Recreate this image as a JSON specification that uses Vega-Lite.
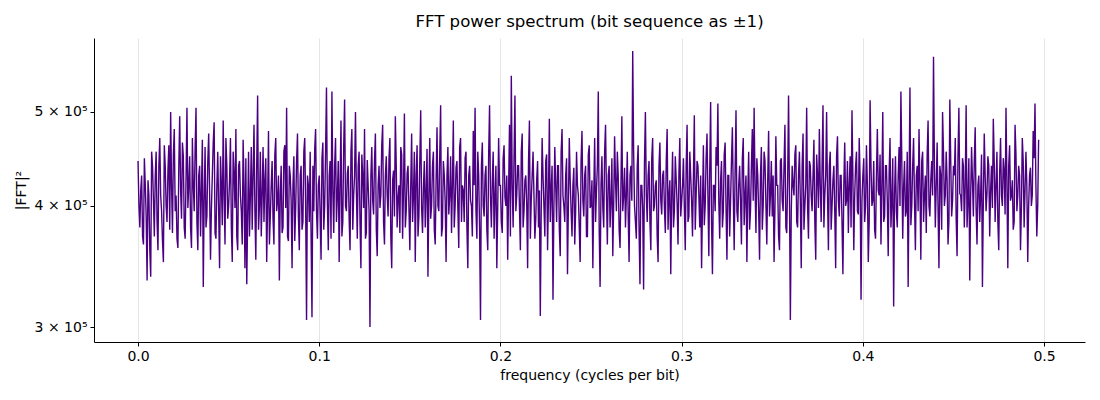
{
  "$schema": "https://vega.github.io/schema/vega-lite/v6.json",
  "description": "FFT power spectrum of a bit sequence mapped to +/-1",
  "width": 991,
  "height": 304,
  "autosize": "none",
  "padding": {"left": 94, "top": 38, "right": 15, "bottom": 58},
  "title": {"text": "FFT power spectrum (bit sequence as ±1)", "fontSize": 16.6, "fontWeight": "normal", "font": "DejaVu Sans", "color": "#000000", "offset": 7},
  "data": {
    "values": [
      {"f":0.0000,"p":445000},{"f":0.0005,"p":400000},{"f":0.0010,"p":380000},{"f":0.0015,"p":415000},{"f":0.0020,"p":430000},{"f":0.0025,"p":372000},{"f":0.0030,"p":365000},{"f":0.0035,"p":448000},{"f":0.0040,"p":420000},{"f":0.0045,"p":390000},
      {"f":0.0050,"p":335000},{"f":0.0055,"p":425000},{"f":0.0060,"p":410000},{"f":0.0065,"p":360000},{"f":0.0070,"p":338000},{"f":0.0075,"p":455000},{"f":0.0080,"p":440000},{"f":0.0085,"p":405000},{"f":0.0090,"p":372000},{"f":0.0095,"p":430000},
      {"f":0.0100,"p":455000},{"f":0.0105,"p":385000},{"f":0.0110,"p":360000},{"f":0.0115,"p":440000},{"f":0.0120,"p":470000},{"f":0.0125,"p":410000},{"f":0.0130,"p":395000},{"f":0.0135,"p":368000},{"f":0.0140,"p":350000},{"f":0.0145,"p":462000},
      {"f":0.0150,"p":440000},{"f":0.0155,"p":400000},{"f":0.0160,"p":385000},{"f":0.0165,"p":435000},{"f":0.0170,"p":462000},{"f":0.0175,"p":378000},{"f":0.0180,"p":500000},{"f":0.0185,"p":420000},{"f":0.0190,"p":375000},{"f":0.0195,"p":452000},
      {"f":0.0200,"p":480000},{"f":0.0205,"p":395000},{"f":0.0210,"p":410000},{"f":0.0215,"p":370000},{"f":0.0220,"p":362000},{"f":0.0225,"p":440000},{"f":0.0230,"p":495000},{"f":0.0235,"p":415000},{"f":0.0240,"p":388000},{"f":0.0245,"p":465000},
      {"f":0.0250,"p":450000},{"f":0.0255,"p":380000},{"f":0.0260,"p":370000},{"f":0.0265,"p":428000},{"f":0.0270,"p":505000},{"f":0.0275,"p":398000},{"f":0.0280,"p":420000},{"f":0.0285,"p":450000},{"f":0.0290,"p":380000},{"f":0.0295,"p":362000},
      {"f":0.0300,"p":470000},{"f":0.0305,"p":420000},{"f":0.0310,"p":395000},{"f":0.0315,"p":458000},{"f":0.0320,"p":505000},{"f":0.0325,"p":385000},{"f":0.0330,"p":360000},{"f":0.0335,"p":430000},{"f":0.0340,"p":440000},{"f":0.0345,"p":372000},
      {"f":0.0350,"p":415000},{"f":0.0355,"p":468000},{"f":0.0360,"p":330000},{"f":0.0365,"p":405000},{"f":0.0370,"p":460000},{"f":0.0375,"p":380000},{"f":0.0380,"p":390000},{"f":0.0385,"p":445000},{"f":0.0390,"p":475000},{"f":0.0395,"p":412000},
      {"f":0.0400,"p":352000},{"f":0.0405,"p":398000},{"f":0.0410,"p":430000},{"f":0.0415,"p":465000},{"f":0.0420,"p":488000},{"f":0.0425,"p":375000},{"f":0.0430,"p":370000},{"f":0.0435,"p":420000},{"f":0.0440,"p":455000},{"f":0.0445,"p":395000},
      {"f":0.0450,"p":345000},{"f":0.0455,"p":450000},{"f":0.0460,"p":420000},{"f":0.0465,"p":382000},{"f":0.0470,"p":490000},{"f":0.0475,"p":410000},{"f":0.0480,"p":365000},{"f":0.0485,"p":470000},{"f":0.0490,"p":440000},{"f":0.0495,"p":388000},
      {"f":0.0500,"p":400000},{"f":0.0505,"p":425000},{"f":0.0510,"p":470000},{"f":0.0515,"p":380000},{"f":0.0520,"p":350000},{"f":0.0525,"p":455000},{"f":0.0530,"p":432000},{"f":0.0535,"p":398000},{"f":0.0540,"p":480000},{"f":0.0545,"p":372000},
      {"f":0.0550,"p":360000},{"f":0.0555,"p":440000},{"f":0.0560,"p":445000},{"f":0.0565,"p":410000},{"f":0.0570,"p":395000},{"f":0.0575,"p":365000},{"f":0.0580,"p":468000},{"f":0.0585,"p":420000},{"f":0.0590,"p":345000},{"f":0.0595,"p":448000},
      {"f":0.0600,"p":332000},{"f":0.0605,"p":390000},{"f":0.0610,"p":455000},{"f":0.0615,"p":372000},{"f":0.0620,"p":410000},{"f":0.0625,"p":460000},{"f":0.0630,"p":378000},{"f":0.0635,"p":430000},{"f":0.0640,"p":485000},{"f":0.0645,"p":395000},
      {"f":0.0650,"p":352000},{"f":0.0655,"p":442000},{"f":0.0660,"p":520000},{"f":0.0665,"p":378000},{"f":0.0670,"p":400000},{"f":0.0675,"p":455000},{"f":0.0680,"p":372000},{"f":0.0685,"p":410000},{"f":0.0690,"p":460000},{"f":0.0695,"p":385000},
      {"f":0.0700,"p":425000},{"f":0.0705,"p":448000},{"f":0.0710,"p":350000},{"f":0.0715,"p":400000},{"f":0.0720,"p":478000},{"f":0.0725,"p":365000},{"f":0.0730,"p":390000},{"f":0.0735,"p":420000},{"f":0.0740,"p":445000},{"f":0.0745,"p":388000},
      {"f":0.0750,"p":365000},{"f":0.0755,"p":452000},{"f":0.0760,"p":470000},{"f":0.0765,"p":395000},{"f":0.0770,"p":405000},{"f":0.0775,"p":430000},{"f":0.0780,"p":335000},{"f":0.0785,"p":412000},{"f":0.0790,"p":440000},{"f":0.0795,"p":375000},
      {"f":0.0800,"p":380000},{"f":0.0805,"p":455000},{"f":0.0810,"p":462000},{"f":0.0815,"p":398000},{"f":0.0820,"p":505000},{"f":0.0825,"p":372000},{"f":0.0830,"p":368000},{"f":0.0835,"p":440000},{"f":0.0840,"p":430000},{"f":0.0845,"p":405000},
      {"f":0.0850,"p":345000},{"f":0.0855,"p":420000},{"f":0.0860,"p":450000},{"f":0.0865,"p":368000},{"f":0.0870,"p":398000},{"f":0.0875,"p":445000},{"f":0.0880,"p":475000},{"f":0.0885,"p":390000},{"f":0.0890,"p":360000},{"f":0.0895,"p":430000},
      {"f":0.0900,"p":440000},{"f":0.0905,"p":378000},{"f":0.0910,"p":385000},{"f":0.0915,"p":455000},{"f":0.0920,"p":470000},{"f":0.0925,"p":400000},{"f":0.0930,"p":305000},{"f":0.0935,"p":430000},{"f":0.0940,"p":420000},{"f":0.0945,"p":385000},
      {"f":0.0950,"p":455000},{"f":0.0955,"p":372000},{"f":0.0960,"p":307000},{"f":0.0965,"p":440000},{"f":0.0970,"p":395000},{"f":0.0975,"p":458000},{"f":0.0980,"p":480000},{"f":0.0985,"p":395000},{"f":0.0990,"p":370000},{"f":0.0995,"p":420000},
      {"f":0.1000,"p":430000},{"f":0.1005,"p":392000},{"f":0.1010,"p":352000},{"f":0.1015,"p":448000},{"f":0.1020,"p":465000},{"f":0.1025,"p":378000},{"f":0.1030,"p":400000},{"f":0.1035,"p":455000},{"f":0.1040,"p":530000},{"f":0.1045,"p":402000},
      {"f":0.1050,"p":360000},{"f":0.1055,"p":430000},{"f":0.1060,"p":445000},{"f":0.1065,"p":370000},{"f":0.1070,"p":525000},{"f":0.1075,"p":415000},{"f":0.1080,"p":375000},{"f":0.1085,"p":440000},{"f":0.1090,"p":470000},{"f":0.1095,"p":385000},
      {"f":0.1100,"p":410000},{"f":0.1105,"p":445000},{"f":0.1110,"p":350000},{"f":0.1115,"p":420000},{"f":0.1120,"p":490000},{"f":0.1125,"p":372000},{"f":0.1130,"p":385000},{"f":0.1135,"p":460000},{"f":0.1140,"p":515000},{"f":0.1145,"p":400000},
      {"f":0.1150,"p":395000},{"f":0.1155,"p":432000},{"f":0.1160,"p":440000},{"f":0.1165,"p":388000},{"f":0.1170,"p":360000},{"f":0.1175,"p":455000},{"f":0.1180,"p":480000},{"f":0.1185,"p":378000},{"f":0.1190,"p":410000},{"f":0.1195,"p":430000},
      {"f":0.1200,"p":500000},{"f":0.1205,"p":415000},{"f":0.1210,"p":370000},{"f":0.1215,"p":440000},{"f":0.1220,"p":455000},{"f":0.1225,"p":385000},{"f":0.1230,"p":345000},{"f":0.1235,"p":452000},{"f":0.1240,"p":430000},{"f":0.1245,"p":398000},
      {"f":0.1250,"p":480000},{"f":0.1255,"p":370000},{"f":0.1260,"p":375000},{"f":0.1265,"p":446000},{"f":0.1270,"p":420000},{"f":0.1275,"p":395000},{"f":0.1280,"p":300000},{"f":0.1285,"p":430000},{"f":0.1290,"p":460000},{"f":0.1295,"p":405000},
      {"f":0.1300,"p":392000},{"f":0.1305,"p":445000},{"f":0.1310,"p":475000},{"f":0.1315,"p":378000},{"f":0.1320,"p":355000},{"f":0.1325,"p":420000},{"f":0.1330,"p":440000},{"f":0.1335,"p":398000},{"f":0.1340,"p":410000},{"f":0.1345,"p":462000},
      {"f":0.1350,"p":485000},{"f":0.1355,"p":385000},{"f":0.1360,"p":365000},{"f":0.1365,"p":430000},{"f":0.1370,"p":450000},{"f":0.1375,"p":410000},{"f":0.1380,"p":390000},{"f":0.1385,"p":448000},{"f":0.1390,"p":470000},{"f":0.1395,"p":372000},
      {"f":0.1400,"p":345000},{"f":0.1405,"p":425000},{"f":0.1410,"p":435000},{"f":0.1415,"p":390000},{"f":0.1420,"p":495000},{"f":0.1425,"p":440000},{"f":0.1430,"p":380000},{"f":0.1435,"p":408000},{"f":0.1440,"p":420000},{"f":0.1445,"p":375000},
      {"f":0.1450,"p":460000},{"f":0.1455,"p":452000},{"f":0.1460,"p":370000},{"f":0.1465,"p":415000},{"f":0.1470,"p":498000},{"f":0.1475,"p":380000},{"f":0.1480,"p":395000},{"f":0.1485,"p":432000},{"f":0.1490,"p":440000},{"f":0.1495,"p":398000},
      {"f":0.1500,"p":360000},{"f":0.1505,"p":420000},{"f":0.1510,"p":475000},{"f":0.1515,"p":385000},{"f":0.1520,"p":410000},{"f":0.1525,"p":455000},{"f":0.1530,"p":350000},{"f":0.1535,"p":430000},{"f":0.1540,"p":462000},{"f":0.1545,"p":372000},
      {"f":0.1550,"p":390000},{"f":0.1555,"p":445000},{"f":0.1560,"p":502000},{"f":0.1565,"p":398000},{"f":0.1570,"p":375000},{"f":0.1575,"p":418000},{"f":0.1580,"p":445000},{"f":0.1585,"p":380000},{"f":0.1590,"p":415000},{"f":0.1595,"p":458000},
      {"f":0.1600,"p":338000},{"f":0.1605,"p":410000},{"f":0.1610,"p":470000},{"f":0.1615,"p":388000},{"f":0.1620,"p":400000},{"f":0.1625,"p":440000},{"f":0.1630,"p":455000},{"f":0.1635,"p":378000},{"f":0.1640,"p":365000},{"f":0.1645,"p":425000},
      {"f":0.1650,"p":482000},{"f":0.1655,"p":400000},{"f":0.1660,"p":395000},{"f":0.1665,"p":452000},{"f":0.1670,"p":508000},{"f":0.1675,"p":372000},{"f":0.1680,"p":380000},{"f":0.1685,"p":445000},{"f":0.1690,"p":430000},{"f":0.1695,"p":405000},
      {"f":0.1700,"p":350000},{"f":0.1705,"p":430000},{"f":0.1710,"p":460000},{"f":0.1715,"p":392000},{"f":0.1720,"p":410000},{"f":0.1725,"p":450000},{"f":0.1730,"p":375000},{"f":0.1735,"p":420000},{"f":0.1740,"p":490000},{"f":0.1745,"p":380000},
      {"f":0.1750,"p":400000},{"f":0.1755,"p":438000},{"f":0.1760,"p":445000},{"f":0.1765,"p":398000},{"f":0.1770,"p":362000},{"f":0.1775,"p":460000},{"f":0.1780,"p":470000},{"f":0.1785,"p":385000},{"f":0.1790,"p":420000},{"f":0.1795,"p":415000},
      {"f":0.1800,"p":385000},{"f":0.1805,"p":448000},{"f":0.1810,"p":455000},{"f":0.1815,"p":380000},{"f":0.1820,"p":345000},{"f":0.1825,"p":430000},{"f":0.1830,"p":440000},{"f":0.1835,"p":405000},{"f":0.1840,"p":400000},{"f":0.1845,"p":372000},
      {"f":0.1850,"p":478000},{"f":0.1855,"p":420000},{"f":0.1860,"p":505000},{"f":0.1865,"p":395000},{"f":0.1870,"p":370000},{"f":0.1875,"p":455000},{"f":0.1880,"p":430000},{"f":0.1885,"p":378000},{"f":0.1890,"p":305000},{"f":0.1895,"p":440000},
      {"f":0.1900,"p":465000},{"f":0.1905,"p":400000},{"f":0.1910,"p":390000},{"f":0.1915,"p":430000},{"f":0.1920,"p":440000},{"f":0.1925,"p":378000},{"f":0.1930,"p":360000},{"f":0.1935,"p":452000},{"f":0.1940,"p":508000},{"f":0.1945,"p":410000},
      {"f":0.1950,"p":380000},{"f":0.1955,"p":425000},{"f":0.1960,"p":455000},{"f":0.1965,"p":370000},{"f":0.1970,"p":410000},{"f":0.1975,"p":440000},{"f":0.1980,"p":345000},{"f":0.1985,"p":398000},{"f":0.1990,"p":470000},{"f":0.1995,"p":420000},
      {"f":0.2000,"p":420000},{"f":0.2005,"p":385000},{"f":0.2010,"p":375000},{"f":0.2015,"p":448000},{"f":0.2020,"p":462000},{"f":0.2025,"p":408000},{"f":0.2030,"p":400000},{"f":0.2035,"p":430000},{"f":0.2040,"p":352000},{"f":0.2045,"p":415000},
      {"f":0.2050,"p":485000},{"f":0.2055,"p":372000},{"f":0.2060,"p":545000},{"f":0.2065,"p":420000},{"f":0.2070,"p":380000},{"f":0.2075,"p":450000},{"f":0.2080,"p":520000},{"f":0.2085,"p":395000},{"f":0.2090,"p":410000},{"f":0.2095,"p":440000},
      {"f":0.2100,"p":440000},{"f":0.2105,"p":398000},{"f":0.2110,"p":360000},{"f":0.2115,"p":455000},{"f":0.2120,"p":475000},{"f":0.2125,"p":380000},{"f":0.2130,"p":395000},{"f":0.2135,"p":425000},{"f":0.2140,"p":430000},{"f":0.2145,"p":402000},
      {"f":0.2150,"p":345000},{"f":0.2155,"p":445000},{"f":0.2160,"p":490000},{"f":0.2165,"p":370000},{"f":0.2170,"p":405000},{"f":0.2175,"p":430000},{"f":0.2180,"p":455000},{"f":0.2185,"p":410000},{"f":0.2190,"p":370000},{"f":0.2195,"p":388000},
      {"f":0.2200,"p":425000},{"f":0.2205,"p":445000},{"f":0.2210,"p":380000},{"f":0.2215,"p":415000},{"f":0.2220,"p":308000},{"f":0.2225,"p":395000},{"f":0.2230,"p":470000},{"f":0.2235,"p":430000},{"f":0.2240,"p":400000},{"f":0.2245,"p":372000},
      {"f":0.2250,"p":445000},{"f":0.2255,"p":452000},{"f":0.2260,"p":360000},{"f":0.2265,"p":408000},{"f":0.2270,"p":492000},{"f":0.2275,"p":385000},{"f":0.2280,"p":415000},{"f":0.2285,"p":440000},{"f":0.2290,"p":320000},{"f":0.2295,"p":398000},
      {"f":0.2300,"p":460000},{"f":0.2305,"p":420000},{"f":0.2310,"p":385000},{"f":0.2315,"p":440000},{"f":0.2320,"p":440000},{"f":0.2325,"p":378000},{"f":0.2330,"p":355000},{"f":0.2335,"p":455000},{"f":0.2340,"p":480000},{"f":0.2345,"p":410000},
      {"f":0.2350,"p":400000},{"f":0.2355,"p":385000},{"f":0.2360,"p":430000},{"f":0.2365,"p":448000},{"f":0.2370,"p":340000},{"f":0.2375,"p":400000},{"f":0.2380,"p":470000},{"f":0.2385,"p":425000},{"f":0.2390,"p":395000},{"f":0.2395,"p":372000},
      {"f":0.2400,"p":420000},{"f":0.2405,"p":438000},{"f":0.2410,"p":365000},{"f":0.2415,"p":395000},{"f":0.2420,"p":455000},{"f":0.2425,"p":420000},{"f":0.2430,"p":410000},{"f":0.2435,"p":380000},{"f":0.2440,"p":350000},{"f":0.2445,"p":445000},
      {"f":0.2450,"p":478000},{"f":0.2455,"p":405000},{"f":0.2460,"p":390000},{"f":0.2465,"p":430000},{"f":0.2470,"p":440000},{"f":0.2475,"p":372000},{"f":0.2480,"p":372000},{"f":0.2485,"p":452000},{"f":0.2490,"p":462000},{"f":0.2495,"p":398000},
      {"f":0.2500,"p":400000},{"f":0.2505,"p":425000},{"f":0.2510,"p":345000},{"f":0.2515,"p":410000},{"f":0.2520,"p":470000},{"f":0.2525,"p":385000},{"f":0.2530,"p":415000},{"f":0.2535,"p":440000},{"f":0.2540,"p":525000},{"f":0.2545,"p":378000},
      {"f":0.2550,"p":330000},{"f":0.2555,"p":420000},{"f":0.2560,"p":450000},{"f":0.2565,"p":398000},{"f":0.2570,"p":380000},{"f":0.2575,"p":455000},{"f":0.2580,"p":485000},{"f":0.2585,"p":412000},{"f":0.2590,"p":365000},{"f":0.2595,"p":430000},
      {"f":0.2600,"p":440000},{"f":0.2605,"p":380000},{"f":0.2610,"p":405000},{"f":0.2615,"p":448000},{"f":0.2620,"p":355000},{"f":0.2625,"p":402000},{"f":0.2630,"p":472000},{"f":0.2635,"p":425000},{"f":0.2640,"p":395000},{"f":0.2645,"p":455000},
      {"f":0.2650,"p":430000},{"f":0.2655,"p":378000},{"f":0.2660,"p":362000},{"f":0.2665,"p":420000},{"f":0.2670,"p":495000},{"f":0.2675,"p":395000},{"f":0.2680,"p":410000},{"f":0.2685,"p":438000},{"f":0.2690,"p":380000},{"f":0.2695,"p":410000},
      {"f":0.2700,"p":455000},{"f":0.2705,"p":392000},{"f":0.2710,"p":350000},{"f":0.2715,"p":430000},{"f":0.2720,"p":440000},{"f":0.2725,"p":405000},{"f":0.2730,"p":578000},{"f":0.2735,"p":455000},{"f":0.2740,"p":400000},{"f":0.2745,"p":385000},
      {"f":0.2750,"p":370000},{"f":0.2755,"p":440000},{"f":0.2760,"p":462000},{"f":0.2765,"p":378000},{"f":0.2770,"p":332000},{"f":0.2775,"p":420000},{"f":0.2780,"p":420000},{"f":0.2785,"p":398000},{"f":0.2790,"p":328000},{"f":0.2795,"p":445000},
      {"f":0.2800,"p":500000},{"f":0.2805,"p":410000},{"f":0.2810,"p":385000},{"f":0.2815,"p":430000},{"f":0.2820,"p":445000},{"f":0.2825,"p":385000},{"f":0.2830,"p":360000},{"f":0.2835,"p":448000},{"f":0.2840,"p":470000},{"f":0.2845,"p":395000},
      {"f":0.2850,"p":400000},{"f":0.2855,"p":420000},{"f":0.2860,"p":425000},{"f":0.2865,"p":372000},{"f":0.2870,"p":350000},{"f":0.2875,"p":440000},{"f":0.2880,"p":465000},{"f":0.2885,"p":405000},{"f":0.2890,"p":392000},{"f":0.2895,"p":430000},
      {"f":0.2900,"p":435000},{"f":0.2905,"p":398000},{"f":0.2910,"p":375000},{"f":0.2915,"p":445000},{"f":0.2920,"p":480000},{"f":0.2925,"p":378000},{"f":0.2930,"p":410000},{"f":0.2935,"p":425000},{"f":0.2940,"p":340000},{"f":0.2945,"p":412000},
      {"f":0.2950,"p":455000},{"f":0.2955,"p":380000},{"f":0.2960,"p":395000},{"f":0.2965,"p":450000},{"f":0.2970,"p":425000},{"f":0.2975,"p":402000},{"f":0.2980,"p":365000},{"f":0.2985,"p":432000},{"f":0.2990,"p":470000},{"f":0.2995,"p":390000},
      {"f":0.3000,"p":405000},{"f":0.3005,"p":420000},{"f":0.3010,"p":448000},{"f":0.3015,"p":398000},{"f":0.3020,"p":360000},{"f":0.3025,"p":440000},{"f":0.3030,"p":485000},{"f":0.3035,"p":385000},{"f":0.3040,"p":390000},{"f":0.3045,"p":455000},
      {"f":0.3050,"p":430000},{"f":0.3055,"p":405000},{"f":0.3060,"p":372000},{"f":0.3065,"p":430000},{"f":0.3070,"p":496000},{"f":0.3075,"p":378000},{"f":0.3080,"p":410000},{"f":0.3085,"p":445000},{"f":0.3090,"p":440000},{"f":0.3095,"p":410000},
      {"f":0.3100,"p":380000},{"f":0.3105,"p":430000},{"f":0.3110,"p":345000},{"f":0.3115,"p":400000},{"f":0.3120,"p":462000},{"f":0.3125,"p":382000},{"f":0.3130,"p":400000},{"f":0.3135,"p":448000},{"f":0.3140,"p":475000},{"f":0.3145,"p":410000},
      {"f":0.3150,"p":355000},{"f":0.3155,"p":435000},{"f":0.3160,"p":512000},{"f":0.3165,"p":385000},{"f":0.3170,"p":340000},{"f":0.3175,"p":420000},{"f":0.3180,"p":420000},{"f":0.3185,"p":395000},{"f":0.3190,"p":460000},{"f":0.3195,"p":440000},
      {"f":0.3200,"p":510000},{"f":0.3205,"p":405000},{"f":0.3210,"p":370000},{"f":0.3215,"p":425000},{"f":0.3220,"p":445000},{"f":0.3225,"p":380000},{"f":0.3230,"p":395000},{"f":0.3235,"p":452000},{"f":0.3240,"p":465000},{"f":0.3245,"p":398000},
      {"f":0.3250,"p":352000},{"f":0.3255,"p":430000},{"f":0.3260,"p":430000},{"f":0.3265,"p":372000},{"f":0.3270,"p":405000},{"f":0.3275,"p":445000},{"f":0.3280,"p":482000},{"f":0.3285,"p":410000},{"f":0.3290,"p":360000},{"f":0.3295,"p":435000},
      {"f":0.3300,"p":502000},{"f":0.3305,"p":395000},{"f":0.3310,"p":385000},{"f":0.3315,"p":420000},{"f":0.3320,"p":440000},{"f":0.3325,"p":405000},{"f":0.3330,"p":365000},{"f":0.3335,"p":448000},{"f":0.3340,"p":470000},{"f":0.3345,"p":382000},
      {"f":0.3350,"p":410000},{"f":0.3355,"p":430000},{"f":0.3360,"p":350000},{"f":0.3365,"p":412000},{"f":0.3370,"p":455000},{"f":0.3375,"p":378000},{"f":0.3380,"p":395000},{"f":0.3385,"p":440000},{"f":0.3390,"p":480000},{"f":0.3395,"p":405000},
      {"f":0.3400,"p":505000},{"f":0.3405,"p":420000},{"f":0.3410,"p":375000},{"f":0.3415,"p":448000},{"f":0.3420,"p":430000},{"f":0.3425,"p":395000},{"f":0.3430,"p":352000},{"f":0.3435,"p":430000},{"f":0.3440,"p":460000},{"f":0.3445,"p":378000},
      {"f":0.3450,"p":400000},{"f":0.3455,"p":455000},{"f":0.3460,"p":445000},{"f":0.3465,"p":402000},{"f":0.3470,"p":365000},{"f":0.3475,"p":425000},{"f":0.3480,"p":478000},{"f":0.3485,"p":390000},{"f":0.3490,"p":410000},{"f":0.3495,"p":445000},
      {"f":0.3500,"p":390000},{"f":0.3505,"p":430000},{"f":0.3510,"p":350000},{"f":0.3515,"p":398000},{"f":0.3520,"p":472000},{"f":0.3525,"p":420000},{"f":0.3530,"p":420000},{"f":0.3535,"p":372000},{"f":0.3540,"p":360000},{"f":0.3545,"p":445000},
      {"f":0.3550,"p":448000},{"f":0.3555,"p":405000},{"f":0.3560,"p":395000},{"f":0.3565,"p":440000},{"f":0.3570,"p":485000},{"f":0.3575,"p":380000},{"f":0.3580,"p":375000},{"f":0.3585,"p":425000},{"f":0.3590,"p":520000},{"f":0.3595,"p":410000},
      {"f":0.3600,"p":305000},{"f":0.3605,"p":395000},{"f":0.3610,"p":440000},{"f":0.3615,"p":420000},{"f":0.3620,"p":410000},{"f":0.3625,"p":452000},{"f":0.3630,"p":462000},{"f":0.3635,"p":385000},{"f":0.3640,"p":380000},{"f":0.3645,"p":430000},
      {"f":0.3650,"p":455000},{"f":0.3655,"p":405000},{"f":0.3660,"p":345000},{"f":0.3665,"p":440000},{"f":0.3670,"p":475000},{"f":0.3675,"p":378000},{"f":0.3680,"p":400000},{"f":0.3685,"p":420000},{"f":0.3690,"p":505000},{"f":0.3695,"p":398000},
      {"f":0.3700,"p":370000},{"f":0.3705,"p":445000},{"f":0.3710,"p":440000},{"f":0.3715,"p":410000},{"f":0.3720,"p":395000},{"f":0.3725,"p":430000},{"f":0.3730,"p":468000},{"f":0.3735,"p":385000},{"f":0.3740,"p":352000},{"f":0.3745,"p":452000},
      {"f":0.3750,"p":430000},{"f":0.3755,"p":398000},{"f":0.3760,"p":480000},{"f":0.3765,"p":420000},{"f":0.3770,"p":385000},{"f":0.3775,"p":440000},{"f":0.3780,"p":508000},{"f":0.3785,"p":380000},{"f":0.3790,"p":410000},{"f":0.3795,"p":430000},
      {"f":0.3800,"p":500000},{"f":0.3805,"p":410000},{"f":0.3810,"p":360000},{"f":0.3815,"p":440000},{"f":0.3820,"p":455000},{"f":0.3825,"p":378000},{"f":0.3830,"p":400000},{"f":0.3835,"p":425000},{"f":0.3840,"p":440000},{"f":0.3845,"p":395000},
      {"f":0.3850,"p":345000},{"f":0.3855,"p":450000},{"f":0.3860,"p":472000},{"f":0.3865,"p":405000},{"f":0.3870,"p":390000},{"f":0.3875,"p":430000},{"f":0.3880,"p":430000},{"f":0.3885,"p":385000},{"f":0.3890,"p":340000},{"f":0.3895,"p":420000},
      {"f":0.3900,"p":465000},{"f":0.3905,"p":400000},{"f":0.3910,"p":405000},{"f":0.3915,"p":445000},{"f":0.3920,"p":375000},{"f":0.3925,"p":420000},{"f":0.3930,"p":450000},{"f":0.3935,"p":380000},{"f":0.3940,"p":502000},{"f":0.3945,"p":430000},
      {"f":0.3950,"p":360000},{"f":0.3955,"p":410000},{"f":0.3960,"p":440000},{"f":0.3965,"p":455000},{"f":0.3970,"p":395000},{"f":0.3975,"p":392000},{"f":0.3980,"p":470000},{"f":0.3985,"p":425000},{"f":0.3990,"p":320000},{"f":0.3995,"p":405000},
      {"f":0.4000,"p":430000},{"f":0.4005,"p":448000},{"f":0.4010,"p":385000},{"f":0.4015,"p":400000},{"f":0.4020,"p":462000},{"f":0.4025,"p":420000},{"f":0.4030,"p":350000},{"f":0.4035,"p":385000},{"f":0.4040,"p":514000},{"f":0.4045,"p":440000},
      {"f":0.4050,"p":400000},{"f":0.4055,"p":405000},{"f":0.4060,"p":445000},{"f":0.4065,"p":378000},{"f":0.4070,"p":370000},{"f":0.4075,"p":430000},{"f":0.4080,"p":480000},{"f":0.4085,"p":415000},{"f":0.4090,"p":410000},{"f":0.4095,"p":452000},
      {"f":0.4100,"p":365000},{"f":0.4105,"p":420000},{"f":0.4110,"p":500000},{"f":0.4115,"p":385000},{"f":0.4120,"p":390000},{"f":0.4125,"p":440000},{"f":0.4130,"p":440000},{"f":0.4135,"p":405000},{"f":0.4140,"p":355000},{"f":0.4145,"p":432000},
      {"f":0.4150,"p":470000},{"f":0.4155,"p":380000},{"f":0.4160,"p":405000},{"f":0.4165,"p":448000},{"f":0.4170,"p":315000},{"f":0.4175,"p":410000},{"f":0.4180,"p":450000},{"f":0.4185,"p":395000},{"f":0.4190,"p":380000},{"f":0.4195,"p":430000},
      {"f":0.4200,"p":460000},{"f":0.4205,"p":400000},{"f":0.4210,"p":525000},{"f":0.4215,"p":445000},{"f":0.4220,"p":370000},{"f":0.4225,"p":418000},{"f":0.4230,"p":445000},{"f":0.4235,"p":390000},{"f":0.4240,"p":395000},{"f":0.4245,"p":455000},
      {"f":0.4250,"p":330000},{"f":0.4255,"p":420000},{"f":0.4260,"p":530000},{"f":0.4265,"p":382000},{"f":0.4270,"p":400000},{"f":0.4275,"p":440000},{"f":0.4280,"p":470000},{"f":0.4285,"p":405000},{"f":0.4290,"p":360000},{"f":0.4295,"p":430000},
      {"f":0.4300,"p":440000},{"f":0.4305,"p":395000},{"f":0.4310,"p":480000},{"f":0.4315,"p":420000},{"f":0.4320,"p":352000},{"f":0.4325,"p":445000},{"f":0.4330,"p":455000},{"f":0.4335,"p":385000},{"f":0.4340,"p":410000},{"f":0.4345,"p":430000},
      {"f":0.4350,"p":375000},{"f":0.4355,"p":452000},{"f":0.4360,"p":490000},{"f":0.4365,"p":400000},{"f":0.4370,"p":390000},{"f":0.4375,"p":425000},{"f":0.4380,"p":445000},{"f":0.4385,"p":410000},{"f":0.4390,"p":570000},{"f":0.4395,"p":440000},
      {"f":0.4400,"p":380000},{"f":0.4405,"p":420000},{"f":0.4410,"p":465000},{"f":0.4415,"p":398000},{"f":0.4420,"p":345000},{"f":0.4425,"p":440000},{"f":0.4430,"p":430000},{"f":0.4435,"p":378000},{"f":0.4440,"p":500000},{"f":0.4445,"p":455000},
      {"f":0.4450,"p":400000},{"f":0.4455,"p":410000},{"f":0.4460,"p":455000},{"f":0.4465,"p":425000},{"f":0.4470,"p":365000},{"f":0.4475,"p":385000},{"f":0.4480,"p":515000},{"f":0.4485,"p":445000},{"f":0.4490,"p":390000},{"f":0.4495,"p":405000},
      {"f":0.4500,"p":440000},{"f":0.4505,"p":430000},{"f":0.4510,"p":470000},{"f":0.4515,"p":388000},{"f":0.4520,"p":355000},{"f":0.4525,"p":450000},{"f":0.4530,"p":505000},{"f":0.4535,"p":412000},{"f":0.4540,"p":410000},{"f":0.4545,"p":395000},
      {"f":0.4550,"p":448000},{"f":0.4555,"p":440000},{"f":0.4560,"p":380000},{"f":0.4565,"p":420000},{"f":0.4570,"p":508000},{"f":0.4575,"p":380000},{"f":0.4580,"p":405000},{"f":0.4585,"p":448000},{"f":0.4590,"p":335000},{"f":0.4595,"p":410000},
      {"f":0.4600,"p":460000},{"f":0.4605,"p":425000},{"f":0.4610,"p":390000},{"f":0.4615,"p":445000},{"f":0.4620,"p":482000},{"f":0.4625,"p":398000},{"f":0.4630,"p":365000},{"f":0.4635,"p":420000},{"f":0.4640,"p":430000},{"f":0.4645,"p":385000},
      {"f":0.4650,"p":410000},{"f":0.4655,"p":452000},{"f":0.4660,"p":330000},{"f":0.4665,"p":405000},{"f":0.4670,"p":475000},{"f":0.4675,"p":430000},{"f":0.4680,"p":395000},{"f":0.4685,"p":412000},{"f":0.4690,"p":450000},{"f":0.4695,"p":440000},
      {"f":0.4700,"p":372000},{"f":0.4705,"p":415000},{"f":0.4710,"p":440000},{"f":0.4715,"p":398000},{"f":0.4720,"p":492000},{"f":0.4725,"p":445000},{"f":0.4730,"p":385000},{"f":0.4735,"p":420000},{"f":0.4740,"p":455000},{"f":0.4745,"p":385000},
      {"f":0.4750,"p":360000},{"f":0.4755,"p":432000},{"f":0.4760,"p":470000},{"f":0.4765,"p":410000},{"f":0.4770,"p":400000},{"f":0.4775,"p":448000},{"f":0.4780,"p":435000},{"f":0.4785,"p":392000},{"f":0.4790,"p":505000},{"f":0.4795,"p":425000},
      {"f":0.4800,"p":345000},{"f":0.4805,"p":440000},{"f":0.4810,"p":462000},{"f":0.4815,"p":405000},{"f":0.4820,"p":410000},{"f":0.4825,"p":425000},{"f":0.4830,"p":378000},{"f":0.4835,"p":385000},{"f":0.4840,"p":485000},{"f":0.4845,"p":452000},
      {"f":0.4850,"p":395000},{"f":0.4855,"p":410000},{"f":0.4860,"p":440000},{"f":0.4865,"p":430000},{"f":0.4870,"p":360000},{"f":0.4875,"p":398000},{"f":0.4880,"p":470000},{"f":0.4885,"p":445000},{"f":0.4890,"p":380000},{"f":0.4895,"p":415000},
      {"f":0.4900,"p":455000},{"f":0.4905,"p":420000},{"f":0.4910,"p":350000},{"f":0.4915,"p":400000},{"f":0.4920,"p":430000},{"f":0.4925,"p":438000},{"f":0.4930,"p":400000},{"f":0.4935,"p":410000},{"f":0.4940,"p":478000},{"f":0.4945,"p":448000},
      {"f":0.4950,"p":510000},{"f":0.4955,"p":420000},{"f":0.4960,"p":372000},{"f":0.4965,"p":400000},{"f":0.4970,"p":468000}
    ]
  },
  "mark": {"type": "line", "color": "#4b0082", "strokeWidth": 1.4, "clip": true},
  "encoding": {
    "x": {
      "field": "f",
      "type": "quantitative",
      "title": "frequency (cycles per bit)",
      "scale": {"domain": [-0.0243, 0.5226], "nice": false, "zero": false},
      "axis": {"values": [0, 0.1, 0.2, 0.3, 0.4, 0.5], "format": ".1f", "grid": true}
    },
    "y": {
      "field": "p",
      "type": "quantitative",
      "title": "|FFT|²",
      "scale": {"type": "log", "domain": [289500, 596000], "nice": false},
      "axis": {"values": [300000, 400000, 500000], "labelExpr": "format(datum.value / 100000, 'd') + ' × 10⁵'", "grid": false}
    }
  },
  "config": {
    "font": "DejaVu Sans",
    "view": {"stroke": "transparent"},
    "axis": {
      "domainColor": "#000000",
      "domainWidth": 1,
      "tickColor": "#000000",
      "tickSize": 4,
      "labelColor": "#000000",
      "labelFontSize": 14,
      "labelPadding": 3,
      "titleColor": "#000000",
      "titleFontSize": 14,
      "titleFontWeight": "normal",
      "gridColor": "#e5e5e5",
      "gridWidth": 1
    },
    "axisX": {"titlePadding": 5},
    "axisY": {"titlePadding": 6}
  }
}
